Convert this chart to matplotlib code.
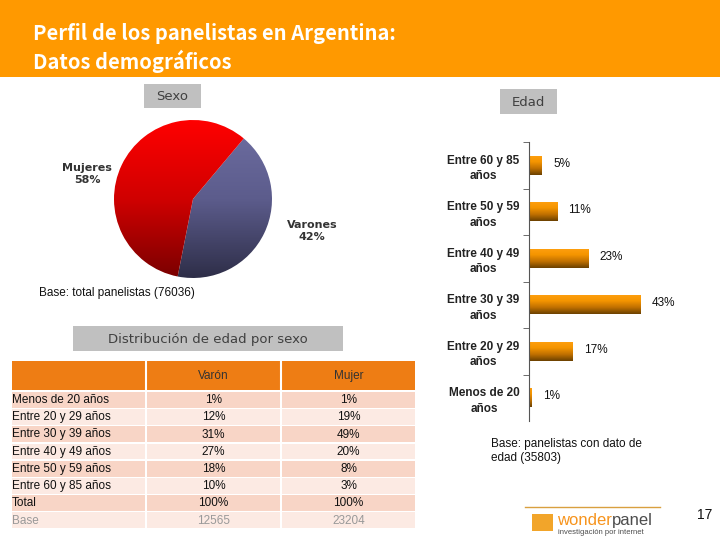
import numpy as np
import matplotlib.pyplot as plt
from matplotlib.patches import Rectangle
from matplotlib.colors import LinearSegmentedColormap

# --- data ---
title_lines = ["Perfil de los panelistas en Argentina:", "Datos demográficos"]

sexo_labels = ["Varones", "Mujeres"]
sexo_values = [42, 58]

edad_labels = ["Menos de 20\naños", "Entre 20 y 29\naños", "Entre 30 y 39\naños",
               "Entre 40 y 49\naños", "Entre 50 y 59\naños", "Entre 60 y 85\naños"]
edad_values = [1, 17, 43, 23, 11, 5]

tabla_filas = ["Menos de 20 años", "Entre 20 y 29 años", "Entre 30 y 39 años",
               "Entre 40 y 49 años", "Entre 50 y 59 años", "Entre 60 y 85 años",
               "Total", "Base"]
tabla_varon = ["1%", "12%", "31%", "27%", "18%", "10%", "100%", "12565"]
tabla_mujer = ["1%", "19%", "49%", "20%", "8%", "3%", "100%", "23204"]
tabla_cols = ["Varón", "Mujer"]

W, H = 720, 540
fig = plt.figure(figsize=(7.2, 5.4), dpi=100)
fig.patch.set_facecolor("white")

# background axes in pixel coordinates
bg = fig.add_axes([0, 0, 1, 1])
bg.set_xlim(0, W)
bg.set_ylim(H, 0)
bg.axis("off")


def ax_px(x0, y0, x1, y1):
    return fig.add_axes([x0 / W, 1 - y1 / H, (x1 - x0) / W, (y1 - y0) / H])


# header
bg.add_patch(Rectangle((0, 0), W, 77, color="#FF9900", lw=0))
for i, line in enumerate(title_lines):
    bg.text(33, 33 + i * 28, line, color="white", fontsize=14.5, fontweight="bold",
            family=["Noto Sans CJK JP", "DejaVu Sans"], va="center", ha="left")

# gray title boxes
def gray_box(x0, y0, x1, y1, txt, fs):
    bg.add_patch(Rectangle((x0, y0), x1 - x0, y1 - y0, color="#C0C0C0", lw=0))
    bg.text((x0 + x1) / 2, (y0 + y1) / 2 + 1, txt, ha="center", va="center",
            fontsize=fs, color="#404040", family="DejaVu Sans")

gray_box(144, 84, 201, 108, "Sexo", 9.5)
gray_box(500, 89, 557, 114, "Edad", 9.5)
gray_box(73, 326, 343, 351, "Distribución de edad por sexo", 9.5)

# --- pie ---
cx, cy, r = 193, 199, 79
pax = ax_px(cx - 90, cy - 90, cx + 90, cy + 90)
lim = 90 / r
pax.set_aspect("equal")
pax.axis("off")
wedges, _ = pax.pie(sexo_values, startangle=50, counterclock=False, radius=1,
                    colors=["none", "none"], wedgeprops=dict(lw=0))
cmaps = [LinearSegmentedColormap.from_list("v", ["#2E2E48", "#5C5C8C", "#6E6EA2"]),
         LinearSegmentedColormap.from_list("m", ["#7A0000", "#D00000", "#FF0000"])]
grad = np.linspace(0, 1, 256).reshape(-1, 1)
for w, cm in zip(wedges, cmaps):
    im = pax.imshow(grad, cmap=cm, extent=[-1, 1, -1, 1], origin="lower",
                    aspect="auto", zorder=1)
    im.set_clip_path(w)
pax.set_xlim(-lim, lim)
pax.set_ylim(-lim, lim)

bg.text(87, 174, "Mujeres\n58%", ha="center", va="center", fontsize=8,
        fontweight="bold", color="#333333", linespacing=1.35)
bg.text(312, 231, "Varones\n42%", ha="center", va="center", fontsize=8,
        fontweight="bold", color="#333333", linespacing=1.35)
bg.text(39, 293, "Base: total panelistas (76036)", ha="left", va="center",
        fontsize=8.5, color="#111111", family="Liberation Sans")

# --- bar chart ---
bax = ax_px(529, 142, 684, 421)
y = np.arange(len(edad_values))
bars = bax.barh(y, edad_values, height=0.41, color="none", lw=0)
bcm = LinearSegmentedColormap.from_list("b", ["#6A4000", "#C07000", "#F59500", "#FFA010"])
for b in bars:
    x0, y0 = b.get_x(), b.get_y()
    im = bax.imshow(grad, cmap=bcm, origin="lower", aspect="auto",
                    extent=[x0, x0 + b.get_width(), y0, y0 + b.get_height()], zorder=2)
    im.set_clip_path(b)
bax.set_xlim(0, 60)
bax.set_ylim(-0.5, len(edad_values) - 0.5)
for s in ["top", "right", "bottom"]:
    bax.spines[s].set_visible(False)
bax.spines["left"].set_color("#555555")
bax.set_xticks([])
bax.set_yticks(y)
bax.set_yticklabels(edad_labels, fontsize=8.5, fontweight="bold",
                    family="Liberation Sans", color="#222222", linespacing=1.4)
for t in bax.get_yticklabels():
    t.set_multialignment("center")
bax.tick_params(axis="y", which="major", length=0, pad=7)
bax.set_yticks(np.arange(len(edad_values)) + 0.5, minor=True)
bax.tick_params(axis="y", which="minor", length=4, color="#555555")
for yi, v in zip(y, edad_values):
    bax.annotate(f"{v}%", (v, yi), xytext=(8, 1), textcoords="offset points",
                 ha="left", va="center", fontsize=8.5, color="#111111",
                 family="Liberation Sans")
bg.text(491, 451, "Base: panelistas con dato de\nedad (35803)", ha="left", va="center",
        fontsize=8.5, color="#111111", family="Liberation Sans", linespacing=1.25)

# --- table ---
cols_x = [(12, 145), (147, 280), (282, 415)]
bg.add_patch(Rectangle((12, 361), 403, 29, color="#EE7D14", lw=0))
for (x0, x1) in cols_x[:-1]:
    bg.plot([x1 + 1, x1 + 1], [361, 390], color="white", lw=1.5)
for (x0, x1), txt in zip(cols_x[1:], tabla_cols):
    bg.text((x0 + x1) / 2, 376, txt, ha="center", va="center", fontsize=8.5,
            color="#333333", family="Liberation Sans")
row_h = 17.2
for i, (lab, v, m) in enumerate(zip(tabla_filas, tabla_varon, tabla_mujer)):
    top = 392 + i * row_h
    fc = "#F8D5C6" if i % 2 == 0 else "#FCEAE3"
    tc = "#999999" if lab == "Base" else "#111111"
    for (x0, x1) in cols_x:
        bg.add_patch(Rectangle((x0, top), x1 - x0, row_h - 1.5, color=fc, lw=0))
    yc = top + row_h / 2 - 0.5
    bg.text(12, yc, lab, ha="left", va="center", fontsize=8.5, color=tc,
            family="Liberation Sans")
    for (x0, x1), txt in zip(cols_x[1:], [v, m]):
        bg.text((x0 + x1) / 2, yc, txt, ha="center", va="center", fontsize=8.5,
                color=tc, family="Liberation Sans")

# --- footer / logo ---
bg.plot([525, 660], [507, 507], color="#D9A040", lw=1)
bg.add_patch(Rectangle((532, 514), 21, 17, color="#F2A52A", lw=0))
t1 = bg.text(557, 525, "wonder", ha="left", va="baseline", fontsize=12,
             color="#F7941D", family="Liberation Sans")
bg.annotate("panel", xy=(1, 0), xycoords=t1, ha="left", va="bottom",
            fontsize=12, color="#4D4D4D", family="Liberation Sans")
bg.text(558, 533, "investigación por internet", ha="left", va="center",
        fontsize=5.5, color="#4D4D4D", family="Liberation Sans")
bg.text(705, 515, "17", ha="center", va="center", fontsize=10,
        color="#111111", family="Liberation Sans")

fig.savefig("out.png", dpi=100)
